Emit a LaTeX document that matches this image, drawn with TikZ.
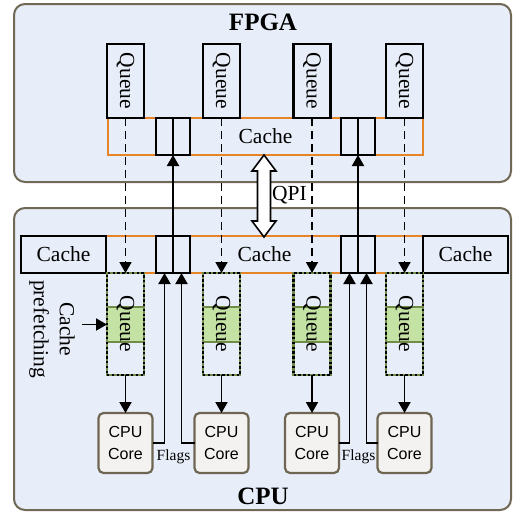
\documentclass[tikz,border=0pt]{standalone}
\usepackage{fontspec}
\usepackage{graphicx}
\setmainfont{Liberation Serif}
\newfontfamily\coresans{Liberation Sans}
\usetikzlibrary{arrows.meta,calc}
\definecolor{bgblue}{RGB}{232,238,249}
\definecolor{frame}{RGB}{110,104,84}
\definecolor{cacheor}{RGB}{232,132,40}
\definecolor{qgreen}{RGB}{196,226,164}
\definecolor{qdkgreen}{RGB}{112,140,70}
\definecolor{corefill}{RGB}{243,242,240}
\definecolor{coreedge}{RGB}{110,102,82}
\begin{document}
\begin{tikzpicture}[x=1pt,y=-1pt,
  region/.style={draw=frame, line width=2pt, fill=bgblue, rounded corners=11pt, inner sep=0pt, outer sep=0pt, anchor=north west},
  title/.style={font=\fontsize{25}{28}\selectfont\bfseries},
  mainfont/.style={font=\fontsize{21.5}{26}\selectfont},
  cachebar/.style={mainfont, draw=cacheor, line width=2pt, inner sep=0pt, outer sep=0pt, minimum height=37pt},
  cachebox/.style={mainfont, draw, line width=2.2pt, inner sep=0pt, outer sep=0pt, minimum height=37pt, minimum width=85pt},
  queue/.style={mainfont, draw, line width=2.2pt, inner sep=0pt, outer sep=0pt, minimum width=37pt, minimum height=74pt},
  cqueue/.style={mainfont, draw=qdkgreen, line width=2.2pt, inner sep=0pt, outer sep=0pt, minimum width=37pt, minimum height=102pt,
     postaction={draw=black, line width=2.2pt, dash pattern=on 2.4pt off 2.4pt}},
  band/.style={fill=qgreen, draw=qdkgreen, line width=1.8pt, inner sep=0pt, outer sep=0pt, minimum width=37pt, minimum height=35pt},
  flagbox/.style={draw, line width=2.2pt, inner sep=0pt, outer sep=0pt, minimum width=17pt, minimum height=37pt},
  core/.style={draw=coreedge, fill=corefill, line width=2.2pt, rounded corners=5pt, inner sep=0pt, outer sep=0pt,
     minimum width=54pt, minimum height=60pt, align=center, font=\coresans\fontsize{16}{22}\selectfont},
  arrowline/.style={line width=1.9pt, -{Triangle[length=11pt,width=12pt]}},
  dasharrow/.style={line width=1.8pt, dash pattern=on 8pt off 5pt, -{Triangle[length=11pt,width=12pt]}},
  qpiarrow/.style={draw, line width=1.6pt, fill=white, line join=miter},
  lbl/.style={font=\fontsize{15.5}{18}\selectfont, inner sep=0pt}
]
\useasboundingbox (0,0) rectangle (513,512);

% regions
\node[region, minimum width=497pt, minimum height=178pt] (fpga) at (14,4) {};
\node[region, minimum width=497pt, minimum height=302pt] (cpu) at (14,208) {};
\node[title] (fpgat) at (263,22) {FPGA};
\node[title] (cput) at (263,496) {CPU};

% FPGA cache, queues, flags
\node[cachebar, minimum width=315pt] (fcache) at (265.5,136.5) {Cache};
\node[queue] (fq1) at (125.5,81) {\rotatebox{-90}{Queue}};
\node[queue] (fq2) at (221.5,81) {\rotatebox{-90}{Queue}};
\node[queue] (fq3) at (312,81) {\rotatebox{-90}{Queue}};
\node[queue] (fq4) at (404.5,81) {\rotatebox{-90}{Queue}};
\node[flagbox] (ff1) at (164.5,136.5) {};
\node[flagbox] (ff2) at (181.5,136.5) {};
\node[flagbox] (ff3) at (349.5,136.5) {};
\node[flagbox] (ff4) at (366.5,136.5) {};

% CPU cache
\node[cachebar, minimum width=317pt] (ccache) at (264.5,254.5) {Cache};
\node[cachebox] (cl) at (63.5,254.5) {Cache};
\node[cachebox] (cr) at (465.5,254.5) {Cache};
\node[flagbox] (cf1) at (164.5,254.5) {};
\node[flagbox] (cf2) at (181.5,254.5) {};
\node[flagbox] (cf3) at (349.5,254.5) {};
\node[flagbox] (cf4) at (366.5,254.5) {};

% CPU queues
\node[band] (b1) at (125.5,324.5) {};
\node[band] (b2) at (221.5,324.5) {};
\node[band] (b3) at (312,324.5) {};
\node[band] (b4) at (404.5,324.5) {};
\node[cqueue] (cq1) at (125.5,324) {\rotatebox{-90}{Queue}};
\node[cqueue] (cq2) at (221.5,324) {\rotatebox{-90}{Queue}};
\node[cqueue] (cq3) at (312,324) {\rotatebox{-90}{Queue}};
\node[cqueue] (cq4) at (404.5,324) {\rotatebox{-90}{Queue}};

% cores
\node[core] (core1) at (125.5,443) {CPU\\Core};
\node[core] (core2) at (221.5,443) {CPU\\Core};
\node[core] (core3) at (312,443) {CPU\\Core};
\node[core] (core4) at (404.5,443) {CPU\\Core};

% dashed transfers
\foreach \i in {1,2,3,4} {
  \draw[dasharrow] (fq\i.south) -- (cq\i.north);
  \draw[arrowline] (cq\i.south) -- (core\i.north);
}

% flags
\draw[arrowline] (core1.east) -| (cf1.south);
\draw[arrowline] (core2.west) -| (cf2.south);
\draw[arrowline] (core3.east) -| (cf3.south);
\draw[arrowline] (core4.west) -| (cf4.south);
\draw[arrowline] (cf1.north east) -- (ff1.south east);
\draw[arrowline] (cf3.north east) -- (ff3.south east);
\node[lbl] (fl1) at (173.5,457) {Flags};
\node[lbl] (fl2) at (358.5,457) {Flags};

% QPI
\coordinate (qpitop) at (264,155);
\coordinate (qpibot) at (264,237);
\draw[qpiarrow] (qpitop) -- ++(12,16) -- ++(-5.5,0) -- ($(qpibot)+(6.5,-16)$) -- ++(5.5,0) -- (qpibot)
   -- ++(-12,-16) -- ++(5.5,0) -- ($(qpitop)+(-6.5,16)$) -- ++(-5.5,0) -- cycle;
\node[mainfont, anchor=west, inner sep=0pt] (qpil) at (272,195) {QPI};

% cache prefetching
\node[mainfont, rotate=-90, align=center, inner sep=0pt] (pf) at (52,329) {Cache\\prefetching};
\coordinate (pfa) at (82,324.5);
\draw[arrowline] (pfa) -- (pfa -| b1.west);
\end{tikzpicture}
\end{document}
